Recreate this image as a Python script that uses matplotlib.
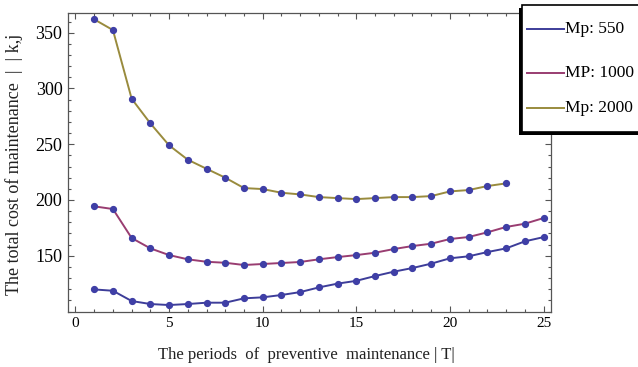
import matplotlib
matplotlib.use("Agg")
import matplotlib.pyplot as plt
from matplotlib.patches import Rectangle
from matplotlib.lines import Line2D
from matplotlib.ticker import MultipleLocator

periods_550 = list(range(1, 26))
cost_550 = [119.8, 118.6, 109.4, 106.7, 105.8, 106.7, 107.9, 107.9, 111.8, 112.7,
            114.8, 117.4, 121.6, 125.0, 127.5, 131.8, 135.7, 139.0, 142.9, 147.7,
            149.5, 153.3, 156.6, 162.9, 166.7]
periods_1000 = list(range(1, 26))
cost_1000 = [194.3, 191.9, 165.9, 156.6, 150.6, 146.8, 144.6, 143.7, 141.7, 142.6,
             143.5, 144.4, 146.8, 148.8, 150.6, 152.7, 156.0, 158.7, 160.8, 165.0,
             166.8, 171.0, 175.8, 178.7, 183.8]
periods_2000 = list(range(1, 24))
cost_2000 = [362.0, 352.4, 290.8, 268.7, 249.0, 236.1, 228.0, 220.0, 210.7, 209.8,
             206.5, 205.0, 202.6, 201.7, 200.8, 201.7, 202.6, 202.6, 203.5, 207.7,
             208.9, 212.5, 214.9]
labels = ["Mp: 550", "MP: 1000", "Mp: 2000"]

W, H = 638, 367
fig = plt.figure(figsize=(W / 100, H / 100), dpi=100)
serif = ["Liberation Serif", "DejaVu Serif"]

L, R, T, B = 68, 551, 13, 311.5
ax = fig.add_axes([L / W, 1 - B / H, (R - L) / W, (B - T) / H])

colors = ["#3d3d99", "#993d71", "#998b3d"]
marker_c = "#3f3fa6"
series = [(periods_550, cost_550), (periods_1000, cost_1000), (periods_2000, cost_2000)]
for (xs, ys), c in zip(series, colors):
    ax.plot(xs, ys, color=c, lw=1.4, marker="o", ms=4.2, mfc=marker_c, mec=marker_c, zorder=3)

ax.set_xlim(-0.4, 25.4)
ax.set_ylim(100, 367.7)
ax.xaxis.set_major_locator(MultipleLocator(5))
ax.xaxis.set_minor_locator(MultipleLocator(1))
ax.yaxis.set_major_locator(MultipleLocator(50))
ax.yaxis.set_minor_locator(MultipleLocator(10))
ax.set_yticks([150, 200, 250, 300, 350])
ax.tick_params(which="both", direction="in", top=True, right=True, color="#555555", width=0.8)
ax.tick_params(which="major", length=4, pad=4)
ax.tick_params(which="minor", length=2)
ax.tick_params(axis="x", labelsize=11)
ax.tick_params(axis="y", labelsize=13)
for lab in ax.get_xticklabels() + ax.get_yticklabels():
    lab.set_fontfamily(serif)
for s in ax.spines.values():
    s.set_color("#555555")
    s.set_linewidth(0.9)

fig.text(306 / W, 1 - 355 / H, "The periods  of  preventive  maintenance | T|",
         ha="center", va="center", fontsize=12, family=serif, color="#222222")
fig.text(14 / W, 1 - 164 / H, "The total cost of maintenance  |  | k,j",
         ha="center", va="center", rotation=90, fontsize=13, family=serif, color="#222222")

# legend box with shadow (drawn in figure pixel coords)
def px(x, y):
    return x / W, 1 - y / H

lx0, ly0, ly1 = 521.5, 5, 131.5
sx, sy = px(518.5, 135)
fig.add_artist(Rectangle((sx, sy), (660 - 518.5) / W, (135 - 8.5) / H,
                         transform=fig.transFigure, facecolor="black", edgecolor="none", zorder=10))
bx, by = px(lx0, ly1)
fig.add_artist(Rectangle((bx, by), (660 - lx0) / W, (ly1 - ly0) / H,
                         transform=fig.transFigure, facecolor="white", edgecolor="black",
                         lw=1.2, zorder=11))
for lab, c, yy in zip(labels, colors, [29, 73, 108]):
    x0, y0 = px(527, yy)
    x1, _ = px(564, yy)
    fig.add_artist(Line2D([x0, x1], [y0, y0], transform=fig.transFigure, color=c, lw=1.4, zorder=12))
    tx, ty = px(565, yy)
    fig.text(tx, ty, lab, ha="left", va="center", fontsize=12.5, family=serif, color="black", zorder=12)

fig.savefig("out.png", dpi=100)
